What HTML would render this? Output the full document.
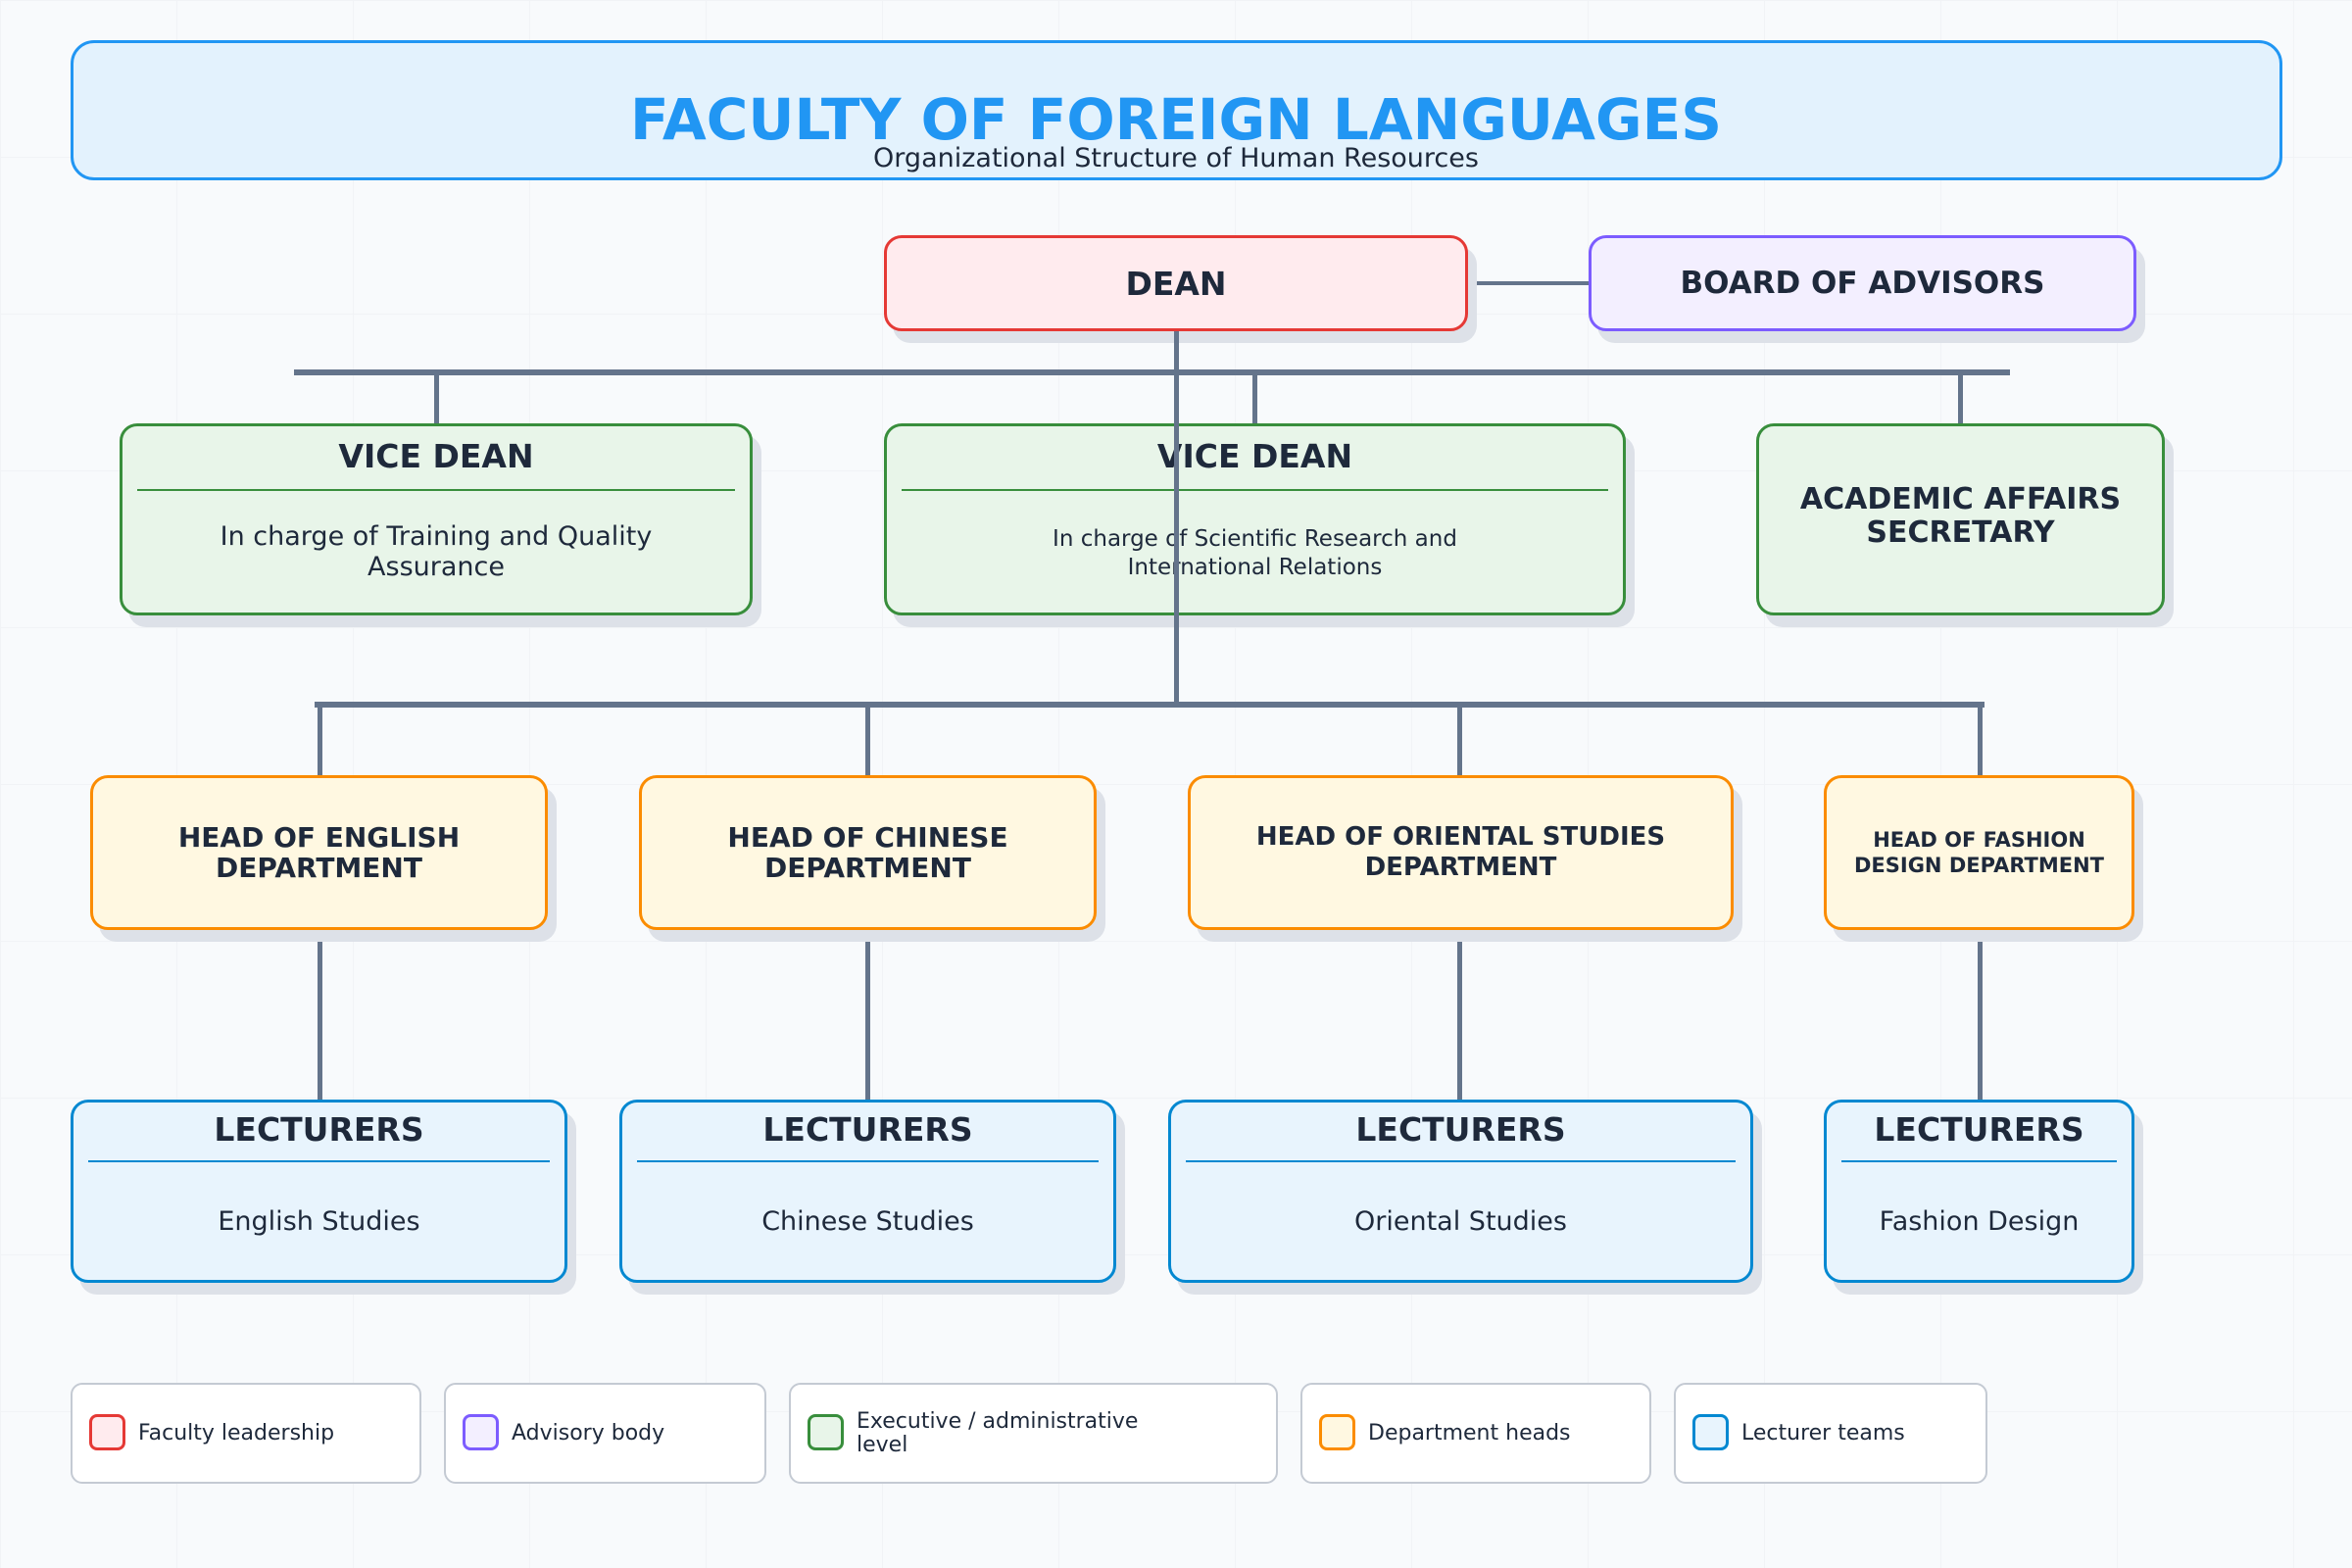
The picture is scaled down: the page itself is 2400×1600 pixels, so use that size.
<!DOCTYPE html>
<html><head><meta charset="utf-8"><style>
*{margin:0;padding:0;box-sizing:border-box}
body{width:2400px;height:1600px;position:relative;overflow:hidden;font-family:"DejaVu Sans","Liberation Sans",sans-serif;color:#1e293b;
background-color:#f8fafc;
background-image:linear-gradient(to right,#f1f3f6 1px,transparent 1px),linear-gradient(to bottom,#f1f3f6 1px,transparent 1px);
background-size:180px 160px;background-position:0 0;}
.a{position:absolute}
.n{position:absolute;border:3px solid;border-radius:18px;box-shadow:9px 12px 0 #dde1e8;text-align:center;font-weight:bold}
.l{position:absolute;background:#64748b}
.c{display:flex;flex-direction:column;justify-content:center;align-items:center;height:100%}
.hr{position:absolute;height:2px;left:15px;right:15px}
.lg{position:absolute;top:1411px;height:103px;border:2px solid #c4cad3;border-radius:12px;background:#fff}
.sw{position:absolute;left:17px;top:30px;width:37px;height:37px;border:3px solid;border-radius:8px}
.lt{position:absolute;left:67px;top:0;height:100%;display:flex;align-items:center;font-size:22px;line-height:24px}
</style></head><body>
<div class="a" style="left:72px;top:41px;width:2257px;height:143px;border:3px solid #2196f3;border-radius:24px;background:#e3f2fd"></div>
<div class="a" style="left:0;width:2400px;top:87px;text-align:center;font-size:58px;font-weight:bold;color:#2196f3;line-height:70px">FACULTY OF FOREIGN LANGUAGES</div>
<div class="a" style="left:0;width:2400px;top:146px;text-align:center;font-size:27px;line-height:32px">Organizational Structure of Human Resources</div>

<div class="l" style="left:1498px;top:287px;width:123px;height:4px"></div>
<div class="l" style="left:300px;top:377px;width:1751px;height:6px"></div>
<div class="l" style="left:443px;top:380px;width:5px;height:52px"></div>
<div class="l" style="left:1278px;top:380px;width:5px;height:52px"></div>
<div class="l" style="left:1998px;top:380px;width:5px;height:52px"></div>

<div class="n" style="left:902px;top:240px;width:596px;height:98px;border-color:#e53935;background:#ffebee;font-size:33px"><div class="c">DEAN</div></div>
<div class="n" style="left:1621px;top:240px;width:559px;height:98px;border-color:#7c5cff;background:#f3efff;font-size:31px"><div class="c">BOARD OF ADVISORS</div></div>

<div class="n" style="left:122px;top:432px;width:646px;height:196px;border-color:#388e3c;background:#e8f5e9">
<div class="a" style="left:0;right:0;top:11px;font-size:33px;line-height:40px">VICE DEAN</div>
<div class="hr" style="top:64px;background:#388e3c"></div>
<div class="a" style="left:70px;right:70px;top:97px;font-size:27px;line-height:31px;font-weight:normal">In charge of Training and Quality Assurance</div></div>
<div class="n" style="left:902px;top:432px;width:757px;height:196px;border-color:#388e3c;background:#e8f5e9">
<div class="a" style="left:0;right:0;top:11px;font-size:33px;line-height:40px">VICE DEAN</div>
<div class="hr" style="top:64px;background:#388e3c"></div>
<div class="a" style="left:100px;right:100px;top:101px;font-size:23px;line-height:29px;font-weight:normal">In charge of Scientific Research and International Relations</div></div>
<div class="n" style="left:1792px;top:432px;width:417px;height:196px;border-color:#388e3c;background:#e8f5e9;font-size:30px;line-height:34px"><div class="c" style="padding-bottom:6px">ACADEMIC AFFAIRS<br>SECRETARY</div></div>

<div class="l" style="left:1198px;top:338px;width:5px;height:384px"></div>
<div class="l" style="left:321px;top:716px;width:1704px;height:6px"></div>
<div class="l" style="left:324px;top:719px;width:5px;height:72px"></div>
<div class="l" style="left:883px;top:719px;width:5px;height:72px"></div>
<div class="l" style="left:1487px;top:719px;width:5px;height:72px"></div>
<div class="l" style="left:2018px;top:719px;width:5px;height:72px"></div>
<div class="l" style="left:324px;top:949px;width:5px;height:173px"></div>
<div class="l" style="left:883px;top:949px;width:5px;height:173px"></div>
<div class="l" style="left:1487px;top:949px;width:5px;height:173px"></div>
<div class="l" style="left:2018px;top:949px;width:5px;height:173px"></div>

<div class="n" style="left:92px;top:791px;width:467px;height:158px;border-color:#fb8c00;background:#fff8e1;font-size:28px;line-height:31px"><div class="c">HEAD OF ENGLISH<br>DEPARTMENT</div></div>
<div class="n" style="left:652px;top:791px;width:467px;height:158px;border-color:#fb8c00;background:#fff8e1;font-size:28px;line-height:31px"><div class="c">HEAD OF CHINESE<br>DEPARTMENT</div></div>
<div class="n" style="left:1212px;top:791px;width:557px;height:158px;border-color:#fb8c00;background:#fff8e1;font-size:26px;line-height:31px"><div class="c">HEAD OF ORIENTAL STUDIES<br>DEPARTMENT</div></div>
<div class="n" style="left:1861px;top:791px;width:317px;height:158px;border-color:#fb8c00;background:#fff8e1;font-size:21px;line-height:26px"><div class="c">HEAD OF FASHION<br>DESIGN DEPARTMENT</div></div>

<div class="n" style="left:72px;top:1122px;width:507px;height:187px;border-color:#0288d1;background:#e8f4fd">
<div class="a" style="left:0;right:0;top:8px;font-size:33px;line-height:40px">LECTURERS</div>
<div class="hr" style="top:59px;background:#0288d1"></div>
<div class="a" style="left:0;right:0;top:106px;font-size:27px;line-height:32px;font-weight:normal">English Studies</div></div>
<div class="n" style="left:632px;top:1122px;width:507px;height:187px;border-color:#0288d1;background:#e8f4fd">
<div class="a" style="left:0;right:0;top:8px;font-size:33px;line-height:40px">LECTURERS</div>
<div class="hr" style="top:59px;background:#0288d1"></div>
<div class="a" style="left:0;right:0;top:106px;font-size:27px;line-height:32px;font-weight:normal">Chinese Studies</div></div>
<div class="n" style="left:1192px;top:1122px;width:597px;height:187px;border-color:#0288d1;background:#e8f4fd">
<div class="a" style="left:0;right:0;top:8px;font-size:33px;line-height:40px">LECTURERS</div>
<div class="hr" style="top:59px;background:#0288d1"></div>
<div class="a" style="left:0;right:0;top:106px;font-size:27px;line-height:32px;font-weight:normal">Oriental Studies</div></div>
<div class="n" style="left:1861px;top:1122px;width:317px;height:187px;border-color:#0288d1;background:#e8f4fd">
<div class="a" style="left:0;right:0;top:8px;font-size:33px;line-height:40px">LECTURERS</div>
<div class="hr" style="top:59px;background:#0288d1"></div>
<div class="a" style="left:0;right:0;top:106px;font-size:27px;line-height:32px;font-weight:normal">Fashion Design</div></div>

<div class="lg" style="left:72px;width:358px"><div class="sw" style="border-color:#e53935;background:#ffebee"></div><div class="lt">Faculty leadership</div></div>
<div class="lg" style="left:453px;width:329px"><div class="sw" style="border-color:#7c5cff;background:#f3efff"></div><div class="lt">Advisory body</div></div>
<div class="lg" style="left:805px;width:499px"><div class="sw" style="border-color:#388e3c;background:#e8f5e9"></div><div class="lt" style="width:300px">Executive / administrative level</div></div>
<div class="lg" style="left:1327px;width:358px"><div class="sw" style="border-color:#fb8c00;background:#fff8e1"></div><div class="lt">Department heads</div></div>
<div class="lg" style="left:1708px;width:320px"><div class="sw" style="border-color:#0288d1;background:#e8f4fd"></div><div class="lt">Lecturer teams</div></div>
</body></html>
